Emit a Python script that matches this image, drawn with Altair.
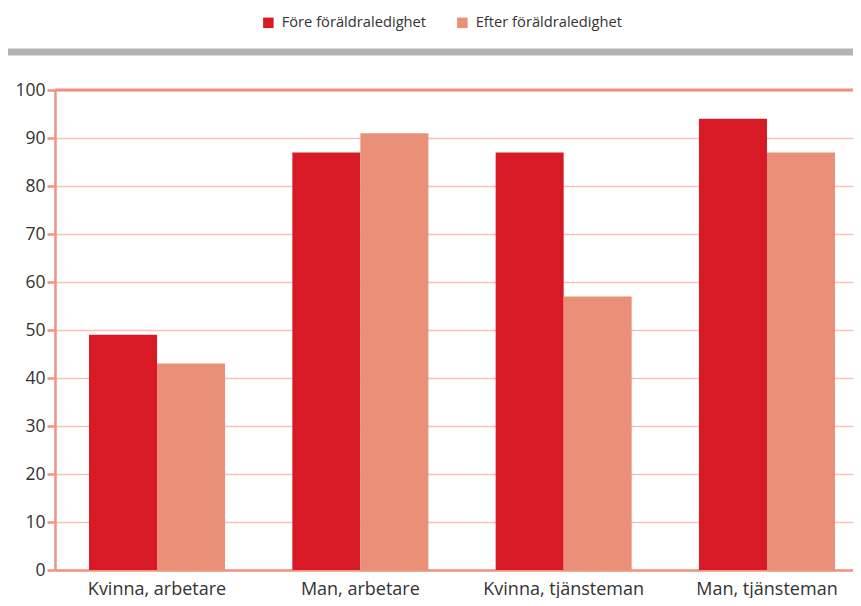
import altair as alt
import pandas as pd

categories = ["Kvinna, arbetare", "Man, arbetare", "Kvinna, tjänsteman", "Man, tjänsteman"]
series = ["Före föräldraledighet", "Efter föräldraledighet"]
fore = [49, 87, 87, 94]
efter = [43, 91, 57, 87]
colors = ["#d71a26", "#ea9078"]
y_ticks = [0, 10, 20, 30, 40, 50, 60, 70, 80, 90, 100]

rows = []
for c, a, b in zip(categories, fore, efter):
    rows.append({"grupp": c, "serie": series[0], "varde": a})
    rows.append({"grupp": c, "serie": series[1], "varde": b})
df = pd.DataFrame(rows)

SALMON = "#eb9480"
GRID = "#f7c4b3"
FONT = "Open Sans"
TEXT = "#333333"

bars = alt.Chart(df).mark_bar().encode(
    x=alt.X("grupp:N", sort=categories, title=None,
            scale=alt.Scale(paddingInner=0.331, paddingOuter=0.1279, align=0.654),
            axis=alt.Axis(labelAngle=0, ticks=False, domain=True, domainColor=SALMON,
                          domainWidth=2.5, labelPadding=10, labelFontSize=18,
                          labelColor=TEXT, labelFont=FONT, grid=False)),
    xOffset=alt.XOffset("serie:N", sort=series,
                        scale=alt.Scale(paddingInner=0, paddingOuter=0)),
    y=alt.Y("varde:Q", title=None,
            scale=alt.Scale(domain=[0, 100], nice=False),
            axis=alt.Axis(values=y_ticks, domain=True, domainColor=SALMON, domainWidth=2.5,
                          ticks=True, tickColor=SALMON, tickWidth=2.5, tickSize=8,
                          grid=True, gridColor=GRID, gridWidth=1.5,
                          labelFontSize=17.5, labelFont=FONT, labelColor=TEXT,
                          labelPadding=2, minExtent=47, maxExtent=47)),
    color=alt.Color("serie:N", sort=series,
                    scale=alt.Scale(domain=series, range=colors),
                    legend=alt.Legend(orient="none", legendX=206, legendY=-75,
                                      direction="horizontal", title=None,
                                      symbolType="square", symbolSize=110,
                                      symbolStrokeWidth=0, labelFontSize=14.7,
                                      labelFont=FONT, labelColor=TEXT,
                                      labelOffset=6, columnPadding=28)),
)

top_line = alt.Chart(pd.DataFrame({"v": [100]})).mark_rule(
    color="#f0907a", strokeWidth=3
).encode(y="v:Q")

gray_band = alt.Chart(pd.DataFrame({"v": [0]})).mark_rule(
    color="#b2b3b5", strokeWidth=7
).encode(x=alt.value(-48), x2=alt.value(798), y=alt.value(-38))

chart = alt.layer(bars, top_line, gray_band).properties(
    width=798, height=480,
    autosize=alt.AutoSizeParams(type="none"),
    padding={"left": 47, "top": 82, "right": 0, "bottom": 28},
).configure_view(stroke=None).configure(font=FONT)

chart.save("out.html", embed_options={"renderer": "svg", "actions": False})
